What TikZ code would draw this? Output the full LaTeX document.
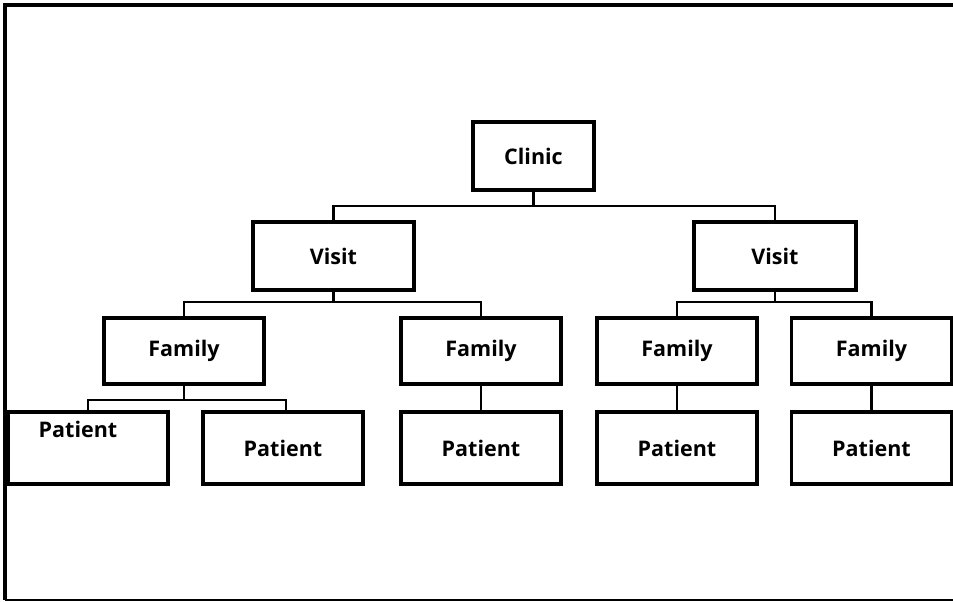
\documentclass[tikz,border=0pt]{standalone}
\usepackage{fontspec}
\setmainfont{Open Sans}
\begin{document}
\begin{tikzpicture}[x=1pt,y=-1pt,
  lbl/.style={font=\fontsize{21.5}{24}\bfseries\selectfont},
  bx/.style={draw,line width=3.6pt,inner sep=0pt,lbl},
  conn/.style={line width=2.8pt}]
\useasboundingbox (0,0) rectangle (953,602);
\draw[line width=3.8pt] (5,600) -- (5,5) -- (953,5);
\draw[line width=2.6pt] (5,600) -- (953,600);
\node[bx,minimum width=121pt,minimum height=68pt] (clinic) at (533.5,156) {Clinic};
\node[bx,minimum width=161pt,minimum height=68pt] (v1) at (333.5,256) {Visit};
\node[bx,minimum width=162pt,minimum height=68pt] (v2) at (775,256) {Visit};
\tikzset{fam/.style={bx,minimum width=160pt,minimum height=66pt}}
\node[fam] (f1) at (184,351) {Family};
\node[fam] (f2) at (481,351) {Family};
\node[fam] (f3) at (677,351) {Family};
\node[fam] (f4) at (871.5,351) {Family};
\tikzset{pat/.style={bx,minimum width=160pt,minimum height=72pt}}
\node[pat] (p1) at (88,448) {};
\node[lbl] (p1t) at (78,429) {Patient};
\node[pat] (p2) at (283,448) {Patient};
\node[pat] (p3) at (481,448) {Patient};
\node[pat] (p4) at (677,448) {Patient};
\node[pat] (p5) at (871.5,448) {Patient};
% connectors
\coordinate (h1) at (533.5,206);
\draw[conn] (clinic.south) -- (h1);
\draw[conn] (v1.north) |- (h1) -| (v2.north);
\coordinate (h2) at (333.5,302);
\draw[conn] (v1.south) -- (h2);
\draw[conn] (f1.north) |- (h2) -| (f2.north);
\coordinate (h3) at (775,302);
\draw[conn] (v2.south) -- (h3);
\draw[conn] (f3.north) |- (h3) -| (f4.north);
\coordinate (h4) at (184,400);
\draw[conn] (f1.south) -- (h4);
\coordinate (p1n) at (88,412);
\coordinate (p2n) at (286,412);
\draw[conn] (p1n) |- (h4) -| (p2n);
\draw[conn] (f2.south) -- (p3.north);
\draw[conn] (f3.south) -- (p4.north);
\draw[conn] (f4.south) -- (p5.north);
\end{tikzpicture}
\end{document}
